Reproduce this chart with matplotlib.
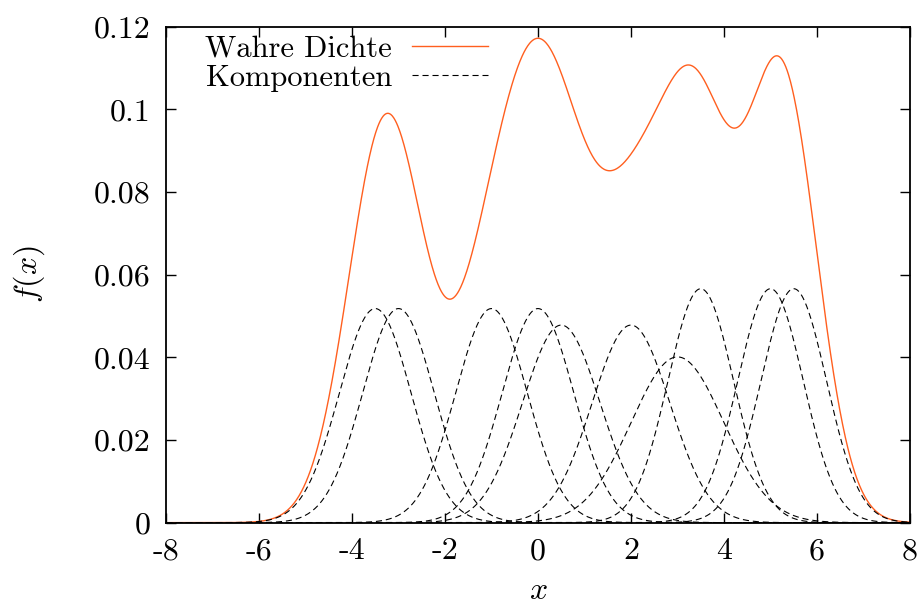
import numpy as np
import matplotlib
matplotlib.use("Agg")
import matplotlib.pyplot as plt

# Gaussian mixture components
means = [-3.5, -3.0, -1.0, 0.0, 0.5, 2.0, 3.0, 3.5, 5.0, 5.5]
peaks = [0.0518, 0.0518, 0.0518, 0.0518, 0.0478, 0.0478, 0.0401, 0.0566, 0.0566, 0.0566]
weights = [0.1] * 10
xticks = [-8, -6, -4, -2, 0, 2, 4, 6, 8]
yticks = [0, 0.02, 0.04, 0.06, 0.08, 0.1, 0.12]
ytick_labels = ["0", "0.02", "0.04", "0.06", "0.08", "0.1", "0.12"]
xtick_labels = ["-8", "-6", "-4", "-2", "0", "2", "4", "6", "8"]

plt.rcParams["font.family"] = ["cmr10", "DejaVu Serif"]
plt.rcParams["mathtext.fontset"] = "cm"
plt.rcParams["axes.unicode_minus"] = False

fig = plt.figure(figsize=(9.22, 6.07), dpi=100)
ax = fig.add_axes([0.180, 0.139, 0.807, 0.817])

x = np.linspace(-8, 8, 1601)
total = np.zeros_like(x)
comps = []
for m, p, w in zip(means, peaks, weights):
    s = w / (p * np.sqrt(2 * np.pi))
    c = w * np.exp(-0.5 * ((x - m) / s) ** 2) / (s * np.sqrt(2 * np.pi))
    comps.append(c)
    total += c

ax.plot(x, total, color="#ff5f1f", lw=1.0, label="Wahre Dichte")
for i, c in enumerate(comps):
    ax.plot(x, c, color="black", lw=0.8, dashes=(5.5, 3.5),
            label="Komponenten" if i == 0 else None)

ax.set_xlim(-8, 8)
ax.set_ylim(0, 0.12)
ax.set_xticks(xticks)
ax.set_xticklabels(xtick_labels)
ax.set_yticks(yticks)
ax.set_yticklabels(ytick_labels)
ax.tick_params(direction="in", length=7, width=1, top=True, right=True,
               labelsize=23, pad=11)
for sp in ax.spines.values():
    sp.set_linewidth(1.3)

ax.set_xlabel("$x$", fontsize=23, labelpad=9)
ax.set_ylabel("$f(x)$", fontsize=23, labelpad=34)

leg = ax.legend(loc="upper left", bbox_to_anchor=(0.028, 1.02), frameon=False,
                markerfirst=False, fontsize=22, handlelength=2.5,
                labelspacing=0.05, handletextpad=0.65, borderaxespad=0.2)
for t in leg.get_texts():
    t.set_ha("right")

fig.savefig("out.png", dpi=100)
